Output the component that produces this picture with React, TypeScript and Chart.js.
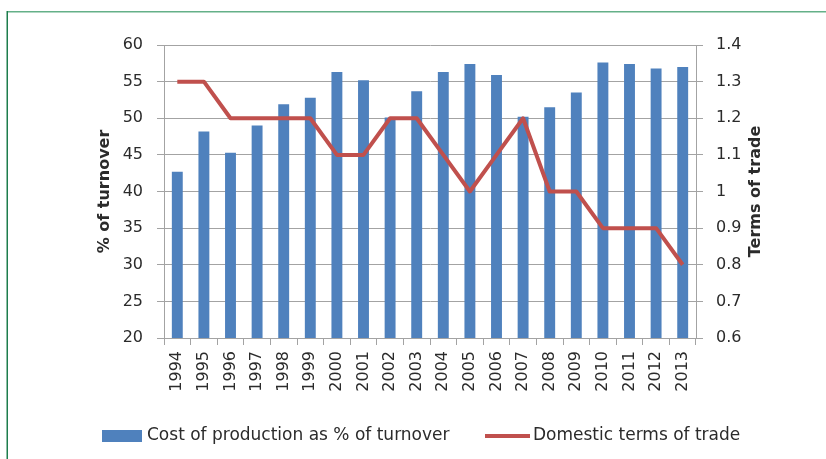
import React, { useEffect, useRef } from "react";
import { Chart, registerables } from "chart.js";

Chart.register(...registerables);

const years = ["1994","1995","1996","1997","1998","1999","2000","2001","2002","2003","2004","2005","2006","2007","2008","2009","2010","2011","2012","2013"];
const costPct = [42.7, 48.2, 45.3, 49.0, 51.9, 52.8, 56.3, 55.2, 50.1, 53.7, 56.3, 57.4, 55.9, 50.2, 51.5, 53.5, 57.6, 57.4, 56.8, 57.0];
const termsOfTrade = [1.3, 1.3, 1.2, 1.2, 1.2, 1.2, 1.1, 1.1, 1.2, 1.2, 1.1, 1.0, 1.1, 1.2, 1.0, 1.0, 0.9, 0.9, 0.9, 0.8];
const leftTitle = "% of turnover";
const rightTitle = "Terms of trade";
const seriesNames = ["Cost of production as % of turnover", "Domestic terms of trade"];

const FONT = "'DejaVu Sans', sans-serif";
const TEXT = "#2b2b2b";
const GRID = "#a3a3a3";

const decorPlugin = {
  id: "decor",
  beforeDraw(chart: any) {
    const ctx = chart.ctx;
    ctx.save();
    ctx.fillStyle = "#ffffff";
    ctx.fillRect(0, 0, chart.width, chart.height);
    ctx.fillStyle = "#64b088";
    ctx.fillRect(7, 11, chart.width - 7, 1.5);
    ctx.fillStyle = "#1d7d4c";
    ctx.fillRect(6.5, 11, 1.5, chart.height - 11);
    ctx.restore();
  },
  afterDraw(chart: any) {
    const ctx = chart.ctx;
    const area = chart.chartArea;
    const midY = (area.top + area.bottom) / 2;
    ctx.save();
    ctx.fillStyle = TEXT;
    ctx.font = "bold 16px " + FONT;
    ctx.textAlign = "center";
    ctx.textBaseline = "middle";
    ctx.save();
    ctx.translate(105, midY);
    ctx.rotate(-Math.PI / 2);
    ctx.fillText(leftTitle, 0, 0);
    ctx.restore();
    ctx.save();
    ctx.translate(756, midY);
    ctx.rotate(-Math.PI / 2);
    ctx.fillText(rightTitle, 0, 0);
    ctx.restore();

    // legend
    const ds = chart.data.datasets;
    const barDs = ds.find((d: any) => d.type === "bar");
    const lineDs = ds.find((d: any) => d.type === "line");
    const ly = 436;
    ctx.font = "17px " + FONT;
    ctx.textAlign = "left";
    ctx.fillStyle = barDs.backgroundColor;
    ctx.fillRect(102, ly - 6, 40, 12);
    ctx.fillStyle = TEXT;
    ctx.fillText(barDs.label, 147, ly);
    ctx.strokeStyle = lineDs.borderColor;
    ctx.lineWidth = 4;
    ctx.beginPath();
    ctx.moveTo(485, ly);
    ctx.lineTo(530, ly);
    ctx.stroke();
    ctx.fillText(lineDs.label, 533, ly);
    ctx.restore();
  },
};

export default function App() {
  const ref = useRef<HTMLCanvasElement | null>(null);
  useEffect(() => {
    if (!ref.current) return;
    const chart = new Chart(ref.current, {
      type: "bar",
      data: {
        labels: years,
        datasets: [
          {
            type: "line",
            label: seriesNames[1],
            data: termsOfTrade,
            yAxisID: "y1",
            borderColor: "#c0504d",
            backgroundColor: "#c0504d",
            borderWidth: 4,
            pointRadius: 0,
            borderJoinStyle: "round",
            tension: 0,
            order: 0,
          } as any,
          {
            type: "bar",
            label: seriesNames[0],
            data: costPct,
            yAxisID: "y",
            backgroundColor: "#4f81bd",
            borderWidth: 0,
            categoryPercentage: 1,
            barPercentage: 0.41,
            order: 1,
          } as any,
        ],
      },
      options: {
        animation: false,
        responsive: false,
        maintainAspectRatio: false,
        devicePixelRatio: 1,
        layout: { padding: { top: 45, left: 0, right: 0, bottom: 0 } },
        plugins: { legend: { display: false }, tooltip: { enabled: false }, title: { display: false } },
        scales: {
          x: {
            afterFit: (s: any) => { s.height = 121; },
            grid: { offset: true, drawOnChartArea: false, drawTicks: true, tickLength: 7, color: GRID },
            border: { display: true, color: GRID },
            ticks: { minRotation: 90, maxRotation: 90, autoSkip: false, padding: 6, color: TEXT, font: { family: FONT, size: 16 } },
          },
          y: {
            position: "left",
            min: 20,
            max: 60,
            afterFit: (s: any) => { s.width = 164; },
            grid: { color: GRID, tickLength: 7, drawTicks: true },
            border: { display: true, color: GRID },
            ticks: { stepSize: 5, padding: 14, color: TEXT, font: { family: FONT, size: 16 } },
          },
          y1: {
            position: "right",
            min: 0.6,
            max: 1.4,
            afterFit: (s: any) => { s.width = 130; },
            grid: { drawOnChartArea: false, tickLength: 7, color: GRID },
            border: { display: true, color: GRID },
            ticks: {
              stepSize: 0.1,
              padding: 13,
              color: TEXT,
              font: { family: FONT, size: 16 },
              callback: (v: any) => String(Math.round(Number(v) * 10) / 10),
            },
          },
        },
      },
      plugins: [decorPlugin],
    });
    return () => chart.destroy();
  }, []);
  return (
    <div style={{ position: "absolute", left: 0, top: 0, width: 826, height: 459 }}>
      <canvas ref={ref} width={826} height={459} style={{ display: "block", width: 826, height: 459 }} />
    </div>
  );
}
